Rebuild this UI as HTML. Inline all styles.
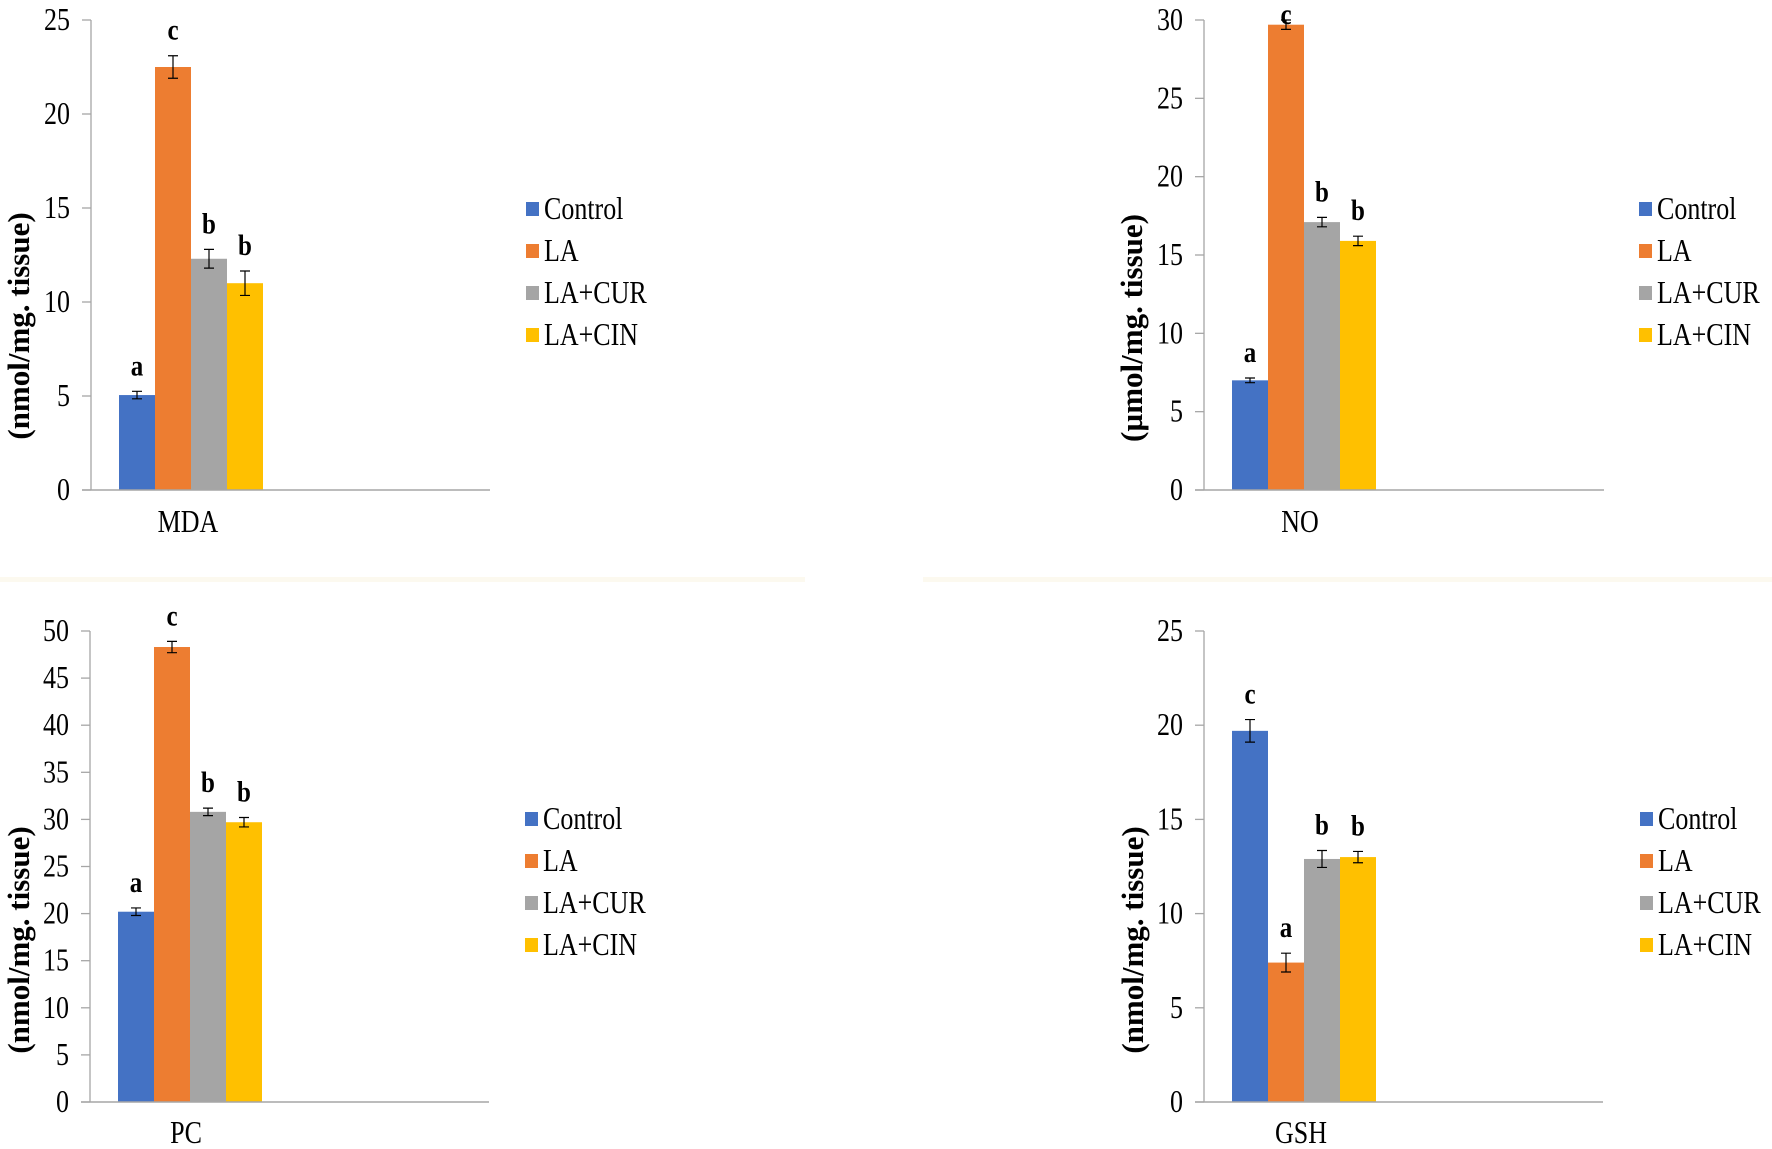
<!DOCTYPE html>
<html><head><meta charset="utf-8"><style>
html,body{margin:0;padding:0;background:#fff;}
svg{display:block;font-family:"Liberation Serif",serif;}
</style></head><body>
<svg id="fig" width="1772" height="1149" viewBox="0 0 1772 1149" xmlns="http://www.w3.org/2000/svg">
<rect x="0" y="0" width="1772" height="1149" fill="#fff"/>
<rect x="0" y="577" width="805" height="5" fill="#fcf9ef"/>
<rect x="923" y="577" width="849" height="5" fill="#fcf9ef"/>
</svg>
<script>
const seriesNames = ["Control","LA","LA+CUR","LA+CIN"];
const colors = ["#4472c4","#ed7d31","#a5a5a5","#ffc000"];
const categories = ["MDA","NO","PC","GSH"];
const yTitles = ["(nmol/mg. tissue)","(µmol/mg. tissue)","(nmol/mg. tissue)","(nmol/mg. tissue)"];
const yMaxes = [25,30,50,25];
const yTickSteps = [5,5,5,5];
const mdaValues = [5.05,22.5,12.3,11.0];
const mdaErrors = [0.2,0.6,0.5,0.65];
const mdaLetters = ["a","c","b","b"];
const noValues = [7.0,29.7,17.1,15.9];
const noErrors = [0.15,0.3,0.3,0.3];
const noLetters = ["a","c","b","b"];
const pcValues = [20.2,48.3,30.8,29.7];
const pcErrors = [0.4,0.6,0.4,0.5];
const pcLetters = ["a","c","b","b"];
const gshValues = [19.7,7.4,12.9,13.0];
const gshErrors = [0.6,0.5,0.45,0.3];
const gshLetters = ["c","a","b","b"];

const NS="http://www.w3.org/2000/svg";
const svg=document.getElementById('fig');
function mk(tag,attrs,parent){const e=document.createElementNS(NS,tag);for(const k in attrs)e.setAttribute(k,attrs[k]);(parent||svg).appendChild(e);return e;}
function txt(x,y,s,attrs,parent,sy){
  const e=mk('text',Object.assign({x:0,y:0,transform:`translate(${x},${y}) scale(1,${sy||1.18})`},attrs),parent);
  e.textContent=s;return e;
}

const panels=[
 {ax:91,axEnd:490,y0:490,yTop:20,titleX:18,titleY:326,legX:526,legY:209,catX:188,catY:532,vals:mdaValues,errs:mdaErrors,lets:mdaLetters,name:"mda"},
 {ax:1204,axEnd:1604,y0:490,yTop:20,titleX:1131,titleY:328,legX:1639,legY:209,catX:1300,catY:532,vals:noValues,errs:noErrors,lets:noLetters,name:"no"},
 {ax:90,axEnd:489,y0:1102,yTop:631,titleX:18,titleY:940,legX:525,legY:819,catX:186,catY:1143,vals:pcValues,errs:pcErrors,lets:pcLetters,name:"pc"},
 {ax:1204,axEnd:1603,y0:1102,yTop:631,titleX:1132,titleY:940,legX:1640,legY:819,catX:1301,catY:1143,vals:gshValues,errs:gshErrors,lets:gshLetters,name:"gsh"}
];

panels.forEach((p,pi)=>{
 const g=mk('g',{});
 
 
 const yMax=yMaxes[pi];
 const yScale=v=>p.y0-(v/yMax)*(p.y0-p.yTop);
 const barW=36, barStart=p.ax+28;
 const xScale=i=>barStart+i*barW;
 const ya=mk('line',{x1:p.ax,y1:p.yTop,x2:p.ax,y2:p.y0,stroke:'#a6a6a6','stroke-width':1.3},g);
 
 
 for(let v=0;v<=yMax;v+=yTickSteps[pi]){
  const y=yScale(v);
  const t=mk('line',{x1:p.ax-9,y1:y,x2:p.ax,y2:y,stroke:'#a6a6a6','stroke-width':1.3},g);
  
  
  const tl=txt(p.ax-21,y+10,String(v),{'text-anchor':'end','font-size':26,fill:'#000'},g,1.2);
  
  
 }
 p.vals.forEach((v,i)=>{
  const x=xScale(i), y=yScale(v);
  const r=mk('rect',{x:x,y:y,width:barW,height:p.y0-y,fill:colors[i]},g);
  
  
  const cx=x+barW/2, yt=yScale(v+p.errs[i]), yb=yScale(v-p.errs[i]);
  const eb=mk('path',{d:`M${cx},${yt}V${yb}M${cx-5},${yt}H${cx+5}M${cx-5},${yb}H${cx+5}`,stroke:'#000','stroke-width':1.2,fill:'none'},g);
  
  
  const ly=Math.max(yt-16,24);
  const lt=txt(cx,ly,p.lets[i],{'text-anchor':'middle','font-size':25,'font-weight':'bold',fill:'#000'},g,1.2);
  
  
 });
 const xa=mk('line',{x1:p.ax-9,y1:p.y0,x2:p.axEnd,y2:p.y0,stroke:'#a6a6a6','stroke-width':1.5},g);
 
 
 const cl=txt(p.catX,p.catY,categories[pi],{'text-anchor':'middle','font-size':26,fill:'#000'},g,1.2);
 
 
 const yt=mk('text',{x:0,y:0,'text-anchor':'middle','font-size':31,'font-weight':'bold',fill:'#000',transform:`translate(${p.titleX+11},${p.titleY}) rotate(-90)`},g);
 
 
 yt.textContent=yTitles[pi];
 seriesNames.forEach((s,i)=>{
  const ly=p.legY+i*42;
  const lg=mk('g',{},g);
  
  
  mk('rect',{x:p.legX,y:ly-7,width:13,height:14,fill:colors[i]},lg);
  txt(p.legX+18,ly+10,s,{'font-size':26,fill:'#000'},lg,1.2);
 });
});
</script>
</body></html>
